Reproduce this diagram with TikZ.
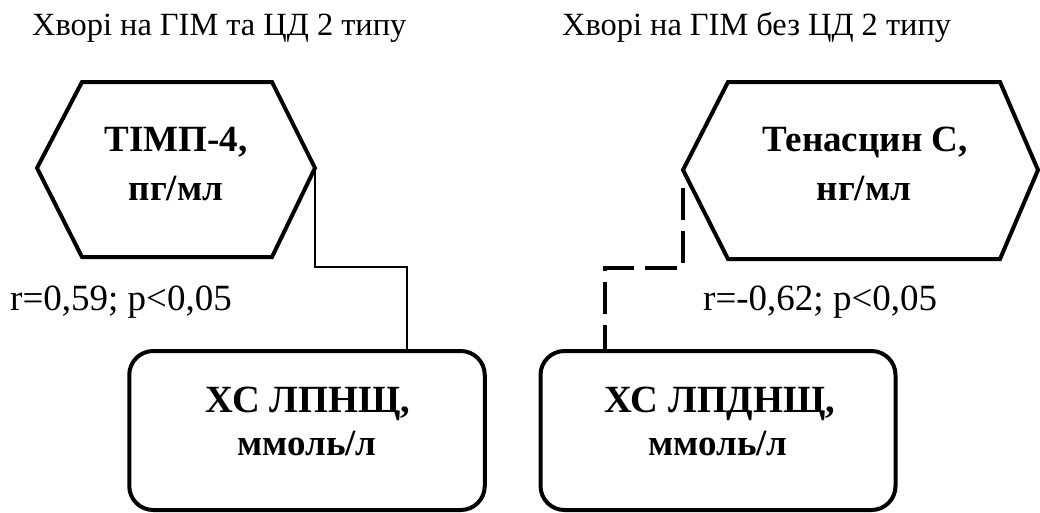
\documentclass[tikz,border=0pt]{standalone}
\usepackage{fontspec}
\setmainfont{Liberation Serif}
\begin{document}
\begin{tikzpicture}[x=1pt,y=-1pt,
  hexline/.style={draw, line width=4pt, line join=miter},
  rbox/.style={draw, line width=4pt, rounded corners=24pt, inner sep=0pt},
  solidlink/.style={draw, line width=2.6pt},
  dashlink/.style={draw, line width=3.3pt, dash pattern=on 32pt off 11pt},
  title/.style={anchor=base west, inner sep=0pt, font=\fontsize{32.4}{36}\selectfont},
  stat/.style={anchor=base west, inner sep=0pt, font=\fontsize{37}{40}\selectfont},
  hexa/.style={anchor=base, inner sep=0pt, font=\fontsize{37}{40}\selectfont\bfseries},
  hexb/.style={anchor=base, inner sep=0pt, font=\fontsize{37}{40}\selectfont\bfseries},
  boxa/.style={anchor=base, inner sep=0pt, font=\fontsize{38.5}{44}\selectfont\bfseries},
  boxb/.style={anchor=base, inner sep=0pt, font=\fontsize{37}{42}\selectfont\bfseries}
]
\useasboundingbox (0,0) rectangle (1040,512);

% titles
\node[title] (t1) at (32,35) {Хворі на ГІМ та ЦД 2 типу};
\node[title] (t2) at (562,35) {Хворі на ГІМ без ЦД 2 типу};

% left hexagon
\coordinate (h1w) at (37,168);
\coordinate (h1e) at (315,168);
\draw[hexline] (h1w) -- (82,82) -- (272,82) -- (h1e) -- (272,257) -- (82,257) -- cycle;
\node[hexa] (h1a) at (176,151) {ТІМП-4,};
\node[hexb] (h1b) at (176,200) {пг/мл};

% right hexagon
\coordinate (h2w) at (683,170);
\coordinate (h2e) at (1038,170);
\draw[hexline] (h2w) -- (728,82) -- (1000,82) -- (h2e) -- (1000,259) -- (728,259) -- cycle;
\node[hexa] (h2a) at (865,151) {Тенасцин С,};
\node[hexb] (h2b) at (864,200) {нг/мл};

% boxes
\node[rbox, minimum width=355.5pt, minimum height=159pt] (b1) at (307,430.5) {};
\node[rbox, minimum width=355pt, minimum height=159pt] (b2) at (718,430.5) {};
\node[boxa] (b1a) at (308,412) {ХС ЛПНЩ,};
\node[boxb] (b1b) at (307,455) {ммоль/л};
\node[boxa] (b2a) at (720,412) {ХС ЛПДНЩ,};
\node[boxb] (b2b) at (718,455) {ммоль/л};

% stats
\node[stat] (s1) at (10,310) {r=0,59; p<0,05};
\node[stat] (s2) at (703,310) {r=-0,62; p<0,05};

% connectors
\coordinate (c1) at (407,267);
\draw[solidlink] (h1e) |- (c1) -- (c1 |- b1.north);
\coordinate (d0) at (683,188);
\coordinate (d1) at (683,268);
\coordinate (d2) at (605,268);
\draw[dashlink] (d0) -- (d1) -- (d2) -- (d2 |- b2.north);
\end{tikzpicture}
\end{document}
